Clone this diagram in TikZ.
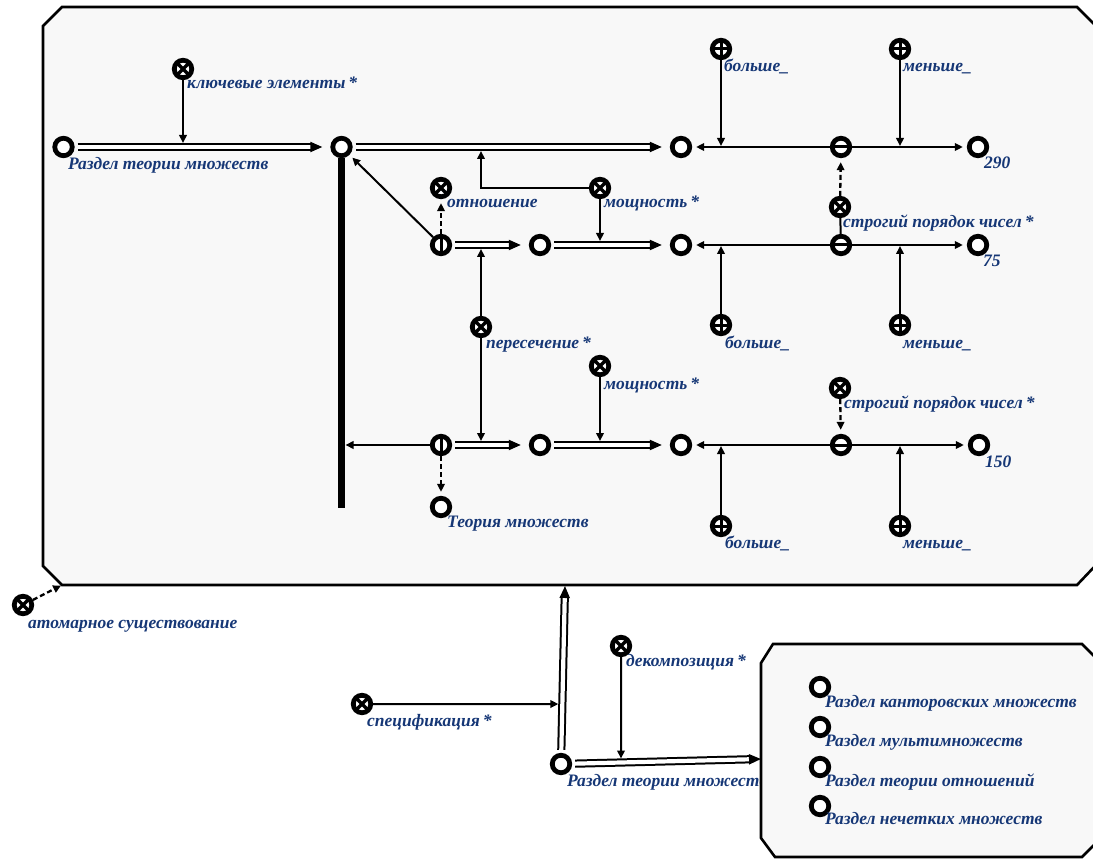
\documentclass[tikz,border=0pt]{standalone}
\usepackage{fontspec}
\setmainfont{Liberation Serif}
\usetikzlibrary{arrows.meta,calc}
\definecolor{lblblue}{RGB}{22,55,118}
\definecolor{framefill}{RGB}{248,248,248}
\begin{document}
\begin{tikzpicture}[x=1pt,y=-1pt,
  base/.style={circle, draw=black, line width=4.8pt, fill=white, minimum size=17.5pt, inner sep=0pt},
  onode/.style={base},
  xnode/.style={base, path picture={\draw[line width=3.4pt] (path picture bounding box.south west) -- (path picture bounding box.north east) (path picture bounding box.north west) -- (path picture bounding box.south east);}},
  pnode/.style={base, path picture={\draw[line width=3pt] (path picture bounding box.west) -- (path picture bounding box.east) (path picture bounding box.north) -- (path picture bounding box.south);}},
  phinode/.style={base, path picture={\draw[line width=3pt] (path picture bounding box.north) -- (path picture bounding box.south);}},
  thnode/.style={base, path picture={\draw[line width=3pt] (path picture bounding box.west) -- (path picture bounding box.east);}},
  lbl/.style={font=\fontsize{17.5}{20}\selectfont\bfseries\itshape, text=lblblue, inner sep=0pt, anchor=base west},
  frame/.style={draw=black, line width=2.6pt, fill=framefill},
  arr/.style={draw=black, line width=2pt, -{Triangle[length=8pt,width=7.5pt]}, shorten >=4pt},
  dsh/.style={arr, line width=2.3pt, dash pattern=on 5pt off 3pt},
  dbl/.style={draw=black, double=white, double distance=4.2pt, line width=2pt, -{Triangle[length=12pt,width=10pt]}, shorten >=8pt, shorten <=3pt},
]
\useasboundingbox (0,0) rectangle (1093,861);
% big frame
\draw[frame] (62,7) -- (1077,7) -- (1096,26) -- (1096,565) -- (1077,585) -- (62,585) -- (43,566) -- (43,26) -- cycle;

% nodes row 1
\node[onode] (A1) at (63.5,147) {};
\node[onode] (B) at (341.5,147) {};
\node[onode] (C) at (681,147) {};
\node[thnode] (D) at (841,147) {};
\node[onode] (E) at (978,147) {};
\node[xnode] (kw) at (183,69) {};
\node[pnode] (bol1) at (721,49) {};
\node[pnode] (men1) at (900,49) {};
% row 2
\node[xnode] (otn) at (441,188) {};
\node[xnode] (m1) at (600,188) {};
\node[xnode] (str1) at (840,207) {};
\node[phinode] (phi2) at (441,245) {};
\node[onode] (O2) at (540,245) {};
\node[onode] (C2) at (681,245) {};
\node[thnode] (D2) at (841,245) {};
\node[onode] (E2) at (978,245) {};
\node[pnode] (bol2) at (721,325) {};
\node[pnode] (men2) at (900,325) {};
\node[xnode] (per) at (481,327) {};
\node[xnode] (m2) at (600,366) {};
\node[xnode] (str2) at (840,388) {};
% row 3
\node[phinode] (phi3) at (441,445) {};
\node[onode] (O3) at (540,445) {};
\node[onode] (C3) at (681,445) {};
\node[thnode] (D3) at (841,445) {};
\node[onode] (E3) at (979,445) {};
\node[onode] (teo) at (441,507) {};
\node[pnode] (bol3) at (721,526) {};
\node[pnode] (men3) at (900,526) {};
\coordinate (bbar) at (341.5,508);

% outside
\node[xnode] (atom) at (23,605) {};
\coordinate (fcorner) at (62,585);
\node[xnode] (spec) at (362,704) {};
\node[xnode] (dec) at (621,646) {};
\node[onode] (botO) at (561,764) {};
\coordinate (ftop) at (565,586);
\coordinate (sfl) at (761,759);

% labels
\node[lbl] (lA1) at (68,170) {Раздел теории множеств};
\node[lbl] (lkw) at (187,89) {ключевые элементы\,*};
\node[lbl] (lbol1) at (724,72) {больше\_};
\node[lbl] (lmen1) at (903,72) {меньше\_};
\node[lbl] (lE) at (984,169) {290};
\node[lbl] (lotn) at (447,208) {отношение};
\node[lbl] (lm1) at (604,208) {мощность\,*};
\node[lbl] (lstr1) at (843,228) {строгий порядок чисел\,*};
\node[lbl] (lE2) at (983,267) {75};
\node[lbl] (lbol2) at (725,348) {больше\_};
\node[lbl] (lmen2) at (903,348) {меньше\_};
\node[lbl] (lper) at (486,348) {пересечение\,*};
\node[lbl] (lm2) at (604,389) {мощность\,*};
\node[lbl] (lstr2) at (844,408) {строгий порядок чисел\,*};
\node[lbl] (lE3) at (985,467) {150};
\node[lbl] (lteo) at (447,527) {Теория множеств};
\node[lbl] (lbol3) at (725,548) {больше\_};
\node[lbl] (lmen3) at (903,548) {меньше\_};
\node[lbl] (latom) at (28,628) {атомарное существование};
\node[lbl] (lspec) at (367,726) {спецификация\,*};
\node[lbl] (ldec) at (626,666) {декомпозиция\,*};
\node[lbl] (lbotO) at (567,786) {Раздел теории множеств};

% connectors big frame
\draw[dbl] (A1) -- (B);
\draw[dbl] (B) -- (C);
\draw[dbl] (phi2) -- (O2);
\draw[dbl] (O2) -- (C2);
\draw[dbl] (phi3) -- (O3);
\draw[dbl] (O3) -- (C3);
\draw[line width=6.5pt] (B.south) -- (bbar);

\draw[arr] (kw) -- (kw |- A1);
\draw[arr] (m1) -| (per |- B);
\draw[arr] (m1) -- (m1 |- O2);
\draw[arr] (per) -- (per |- O2);
\draw[arr] (per) -- (per |- O3);
\draw[arr] (m2) -- (m2 |- O3);

\draw[arr] (D) -- (C);
\draw[arr] (D) -- (E);
\draw[arr, shorten >=1pt] (bol1) -- (bol1 |- D);
\draw[arr, shorten >=1pt] (men1) -- (men1 |- D);
\draw[arr] (D2) -- (C2);
\draw[arr] (D2) -- (E2);
\draw[arr, shorten >=1pt] (bol2) -- (bol2 |- D2);
\draw[arr, shorten >=1pt] (men2) -- (men2 |- D2);
\draw[arr] (D3) -- (C3);
\draw[arr] (D3) -- (E3);
\draw[arr, shorten >=1pt] (bol3) -- (bol3 |- D3);
\draw[arr, shorten >=1pt] (men3) -- (men3 |- D3);

\draw[arr] (phi2) -- (B);
\draw[arr] (phi3) -- (phi3 -| bbar);
\draw[dsh] (str1) -- (D);
\draw[line width=2pt] (str1) -- (D2);
\draw[dsh] (phi2) -- (otn);
\draw[dsh] (str2) -- (D3);
\draw[dsh] (phi3) -- (teo);
\draw[dsh, shorten >=1pt] (atom) -- (fcorner);

% bottom part
\draw[dbl, shorten >=0pt] (botO) -- (ftop);
\draw[arr] (spec) -- ($(botO)!0.337!(ftop)$);

% small frame
\draw[frame] (773,644) -- (1082,644) -- (1096,658) -- (1096,843) -- (1082,857) -- (775,857) -- (761,838) -- (761,663) -- cycle;
\draw[dbl, shorten >=0pt] (botO) -- (sfl);
\draw[arr] (dec) -- ($(botO)!0.3!(sfl)$);

\node[onode] (s1) at (820,687) {};
\node[onode] (s2) at (820,727) {};
\node[onode] (s3) at (820,767) {};
\node[onode] (s4) at (820,806) {};
\node[lbl] (ls1) at (825,707) {Раздел канторовских множеств};
\node[lbl] (ls2) at (825,746) {Раздел мультимножеств};
\node[lbl] (ls3) at (825,786) {Раздел теории отношений};
\node[lbl] (ls4) at (825,824) {Раздел нечетких множеств};
\end{tikzpicture}
\end{document}
